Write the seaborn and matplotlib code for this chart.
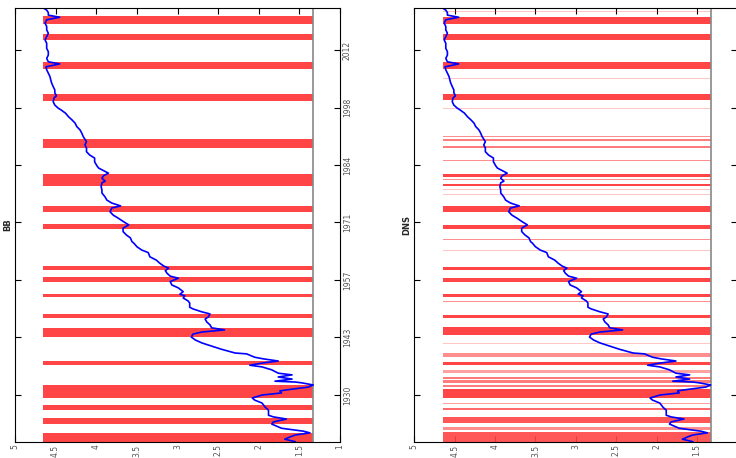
import numpy as np
import pandas as pd
import matplotlib
matplotlib.use("Agg")
import matplotlib.pyplot as plt
import seaborn as sns

# series (decimal year, value)
year = [1918.9, 1919.5, 1920.0, 1920.5, 1921.0, 1921.4, 1922.1, 1923.1, 1923.6, 1924.3,
        1924.8, 1925.2, 1926.4, 1927.1, 1928.1, 1928.8, 1929.3, 1930.0, 1930.5, 1931.0,
        1931.4, 1931.9, 1932.4, 1932.9, 1933.1, 1933.3, 1933.8, 1934.3, 1934.8, 1935.2,
        1936.0, 1936.7, 1937.1, 1937.6, 1938.1, 1938.6, 1939.0, 1939.8, 1940.0, 1940.9,
        1941.4, 1941.9, 1942.4, 1943.1, 1943.8, 1944.5, 1945.0, 1945.5, 1946.0, 1946.7,
        1947.4, 1948.1, 1948.6, 1949.3, 1949.8, 1950.5, 1950.9, 1951.9, 1952.4, 1953.1,
        1953.6, 1954.0, 1954.6, 1955.5, 1956.2, 1957.0, 1957.8, 1958.3, 1959.0, 1959.6,
        1960.2, 1960.7, 1961.4, 1962.1, 1962.9, 1963.9, 1964.5, 1965.3, 1966.2, 1966.5,
        1967.4, 1968.1, 1968.9, 1969.7, 1970.5, 1971.2, 1972.1, 1972.8, 1973.6, 1974.5,
        1975.0, 1975.7, 1976.4, 1977.1, 1978.1, 1978.8, 1979.6, 1980.5, 1980.9, 1981.6,
        1982.2, 1982.8, 1983.4, 1984.0, 1984.5, 1985.5, 1986.4, 1987.1, 1987.9, 1988.8,
        1989.5, 1990.3, 1990.9, 1991.5, 1992.4, 1993.1, 1993.9, 1994.7, 1995.5, 1996.2,
        1997.1, 1997.8, 1998.3, 1999.0, 1999.8, 2000.7, 2001.2, 2001.9, 2002.6, 2003.4,
        2004.3, 2005.0, 2005.8, 2006.6, 2007.4, 2008.1, 2008.8, 2009.3, 2010.1, 2010.9,
        2011.7, 2012.5, 2013.7, 2014.5, 2015.3, 2016.1, 2016.9, 2017.7, 2018.5, 2019.3,
        2019.9, 2020.4, 2021.0, 2021.6, 2022.1]
value = [1.55, 1.68, 1.62, 1.55, 1.37, 1.45, 1.72, 1.84, 1.82, 1.66,
         1.82, 1.88, 1.88, 1.92, 1.96, 2.05, 2.08, 1.96, 1.72, 1.74,
         1.59, 1.39, 1.33, 1.47, 1.55, 1.80, 1.59, 1.76, 1.59, 1.76,
         1.84, 1.96, 2.11, 1.96, 1.76, 1.94, 2.05, 2.15, 2.29, 2.46,
         2.54, 2.62, 2.70, 2.78, 2.83, 2.81, 2.70, 2.42, 2.58, 2.60,
         2.64, 2.66, 2.62, 2.60, 2.70, 2.81, 2.85, 2.85, 2.87, 2.93,
         2.91, 2.97, 2.93, 2.99, 3.07, 3.09, 2.99, 3.09, 3.13, 3.15,
         3.11, 3.17, 3.22, 3.26, 3.34, 3.36, 3.44, 3.50, 3.54, 3.56,
         3.58, 3.63, 3.67, 3.67, 3.60, 3.66, 3.73, 3.79, 3.83, 3.81,
         3.70, 3.81, 3.87, 3.89, 3.93, 3.93, 3.94, 3.93, 3.89, 3.93,
         3.91, 3.85, 3.91, 3.97, 3.99, 4.02, 4.02, 4.08, 4.12, 4.12,
         4.14, 4.12, 4.14, 4.16, 4.18, 4.20, 4.24, 4.26, 4.30, 4.34,
         4.38, 4.43, 4.47, 4.51, 4.53, 4.52, 4.49, 4.51, 4.51, 4.53,
         4.55, 4.56, 4.57, 4.59, 4.61, 4.62, 4.45, 4.59, 4.61, 4.59,
         4.59, 4.61, 4.61, 4.63, 4.61, 4.59, 4.61, 4.61, 4.63, 4.61,
         4.45, 4.59, 4.59, 4.61, 4.65]

# BB shaded periods
bb_start = [2018.3, 2014.5, 2007.5, 2000.0, 1988.7, 1979.8, 1973.6, 1969.4, 1959.8, 1956.8,
            1953.3, 1948.3, 1943.9, 1937.1, 1929.2, 1926.4, 1923.1, 1918.9]
bb_end = [2020.2, 2015.9, 2009.2, 2001.6, 1990.9, 1982.6, 1975.1, 1970.6, 1960.7, 1958.0,
          1954.0, 1949.4, 1945.9, 1938.1, 1932.4, 1927.6, 1924.5, 1920.9]

# DNS shaded periods with their shade strength
dns_start = [2021.1, 2018.3, 2014.5, 2007.6, 2005.3, 2000.2, 1998.1, 1991.5, 1990.5, 1988.9,
             1985.8, 1981.8, 1981.1, 1979.8, 1978.9, 1977.7, 1973.6, 1969.4, 1967.0, 1964.2,
             1959.8, 1957.0, 1956.1, 1953.3, 1952.1, 1951.1, 1948.3, 1944.3, 1942.2, 1939.1,
             1937.1, 1935.2, 1933.9, 1932.9, 1931.9, 1929.2, 1927.9, 1926.4, 1923.3, 1921.7,
             1918.9]
dns_end = [2021.3, 2019.9, 2015.9, 2009.2, 2005.5, 2001.6, 1998.3, 1991.7, 1990.9, 1989.3,
           1986.0, 1982.6, 1981.3, 1980.2, 1979.1, 1977.9, 1975.0, 1970.5, 1967.2, 1964.4,
           1960.5, 1957.8, 1956.3, 1954.0, 1952.3, 1951.3, 1949.0, 1946.3, 1942.4, 1939.9,
           1937.9, 1936.0, 1934.3, 1933.6, 1932.4, 1931.5, 1928.1, 1926.9, 1924.8, 1922.4,
           1921.2]
dns_alpha = [0.3, 1.0, 1.0, 1.0, 0.3, 1.0, 0.3, 0.6, 0.7, 0.7,
             0.6, 1.0, 0.6, 1.0, 0.3, 0.3, 1.0, 1.0, 0.6, 0.3,
             1.0, 1.0, 0.6, 1.0, 0.6, 0.3, 1.0, 1.0, 0.3, 0.6,
             1.0, 0.5, 0.7, 0.7, 0.7, 1.0, 0.5, 0.8, 0.9, 0.6,
             0.9]

year_ticks = [1930, 1943.7, 1957.4, 1971.1, 1984.7, 1998.4, 2012.1]
year_labels = ["1930", "1943", "1957", "1971", "1984", "1998", "2012"]
value_ticks = [1, 1.5, 2, 2.5, 3, 3.5, 4, 4.5, 5]
value_labels = ["1", "1.5", "2", "2.5", "3", "3.5", "4", "4.5", "5"]

sns.set_theme(style="white")
plt.rcParams["font.family"] = ["DejaVu Sans"]

df = pd.DataFrame({"year": year, "value": value})
vmin, vmax = df["value"].min(), df["value"].max()
shade = "#ff4545"


def draw_panel(ax, starts, ends, alphas, title, show_right=True):
    for s, e, a in zip(starts, ends, alphas):
        ax.fill_betweenx([s, e], vmax, vmin, color=shade, alpha=a, lw=0)
    ax.axvline(vmin, color="#888888", lw=1.2)
    sns.lineplot(data=df, x="value", y="year", orient="y", sort=False, estimator=None,
                 color="#0000ff", lw=1.2, ax=ax)
    ax.set_xlim(5, 1)
    ax.set_ylim(df["year"].min(), df["year"].max())
    ax.set_xticks(value_ticks)
    # the DNS panel runs past the right edge of the picture, so its "1" is not shown
    xl = value_labels if show_right else [""] + value_labels[1:]
    ax.set_xticklabels(xl, rotation=90)
    ax.set_yticks(year_ticks)
    ax.set_yticklabels(year_labels, rotation=90, va="center")
    ax.tick_params(axis="both", direction="in", length=4, width=0.8, labelsize=5.5,
                   labelcolor="#555555", pad=2, color="black")
    ax.tick_params(axis="x", top=True, bottom=True)
    ax.tick_params(axis="y", left=True, right=True, labelleft=False, labelright=show_right)
    for sp in ax.spines.values():
        sp.set_visible(True)
        sp.set_color("black")
        sp.set_linewidth(0.8)
    ax.set_xlabel("")
    ax.set_ylabel("")
    ax.text(-0.022, 0.5, title, transform=ax.transAxes, rotation=90, ha="center",
            va="center", fontsize=6, fontweight="bold")


fig = plt.figure(figsize=(7.36, 4.58), dpi=100)
ax1 = fig.add_axes([15 / 736, 16.3 / 458, 325 / 736, 433.7 / 458])
ax2 = fig.add_axes([414.3 / 736, 16.3 / 458, 323 / 736, 433.7 / 458])

draw_panel(ax1, bb_start, bb_end, [1.0] * len(bb_start), "BB")
draw_panel(ax2, dns_start, dns_end, dns_alpha, "DNS", show_right=False)

fig.savefig("out.png", dpi=100)
